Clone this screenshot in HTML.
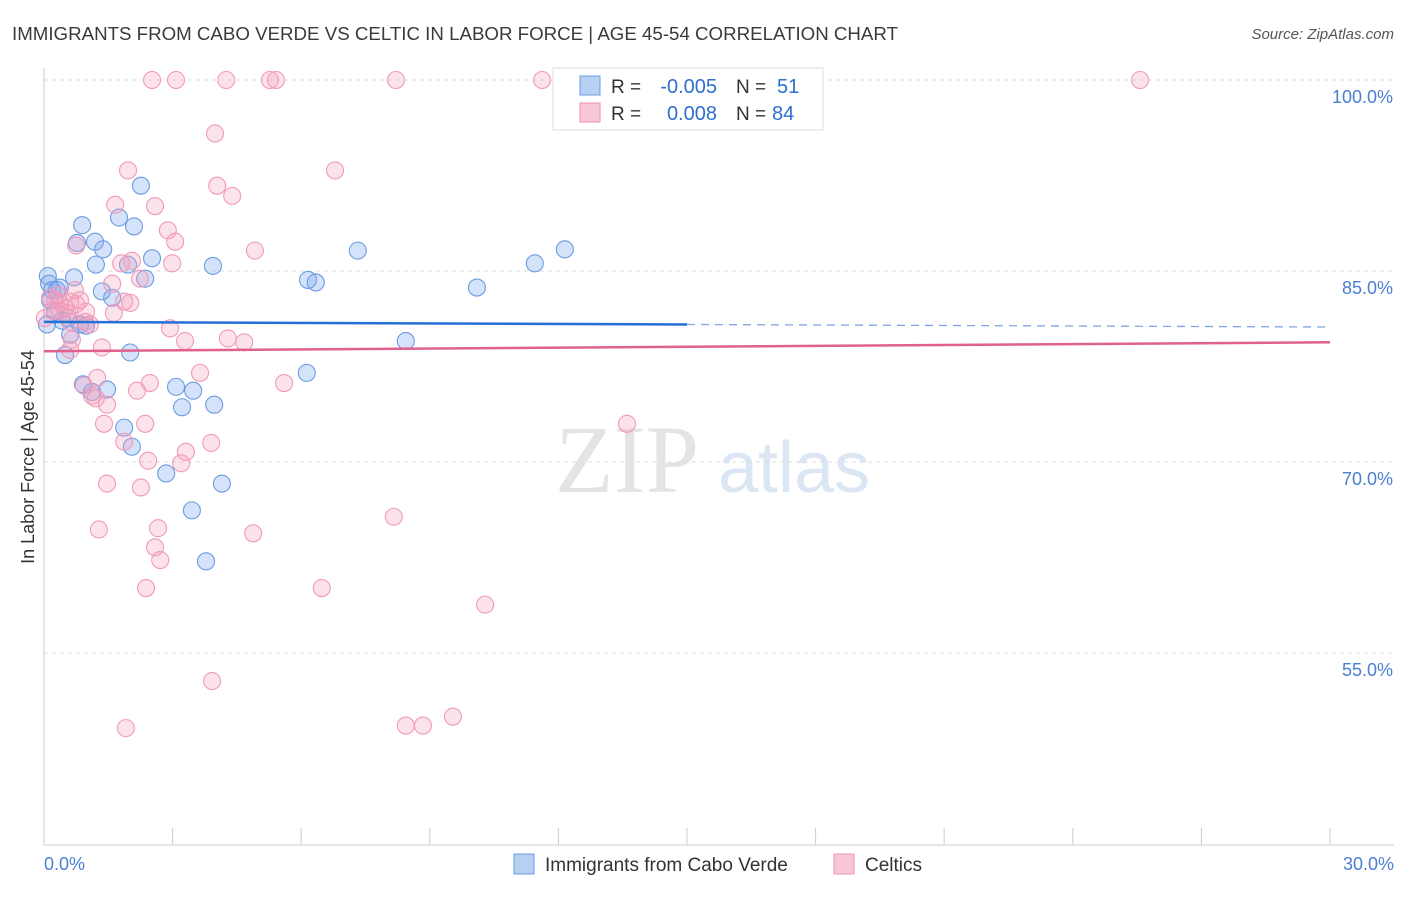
<!DOCTYPE html>
<html><head><meta charset="utf-8"><style>
body{margin:0;background:#fff;font-family:"Liberation Sans",sans-serif;}
</style></head><body>
<svg width="1406" height="892" viewBox="0 0 1406 892" xmlns="http://www.w3.org/2000/svg" id="chart">
<text x="12" y="40" font-size="18" fill="#3a3a3a" textLength="886" lengthAdjust="spacingAndGlyphs">IMMIGRANTS FROM CABO VERDE VS CELTIC IN LABOR FORCE | AGE 45-54 CORRELATION CHART</text>
<text x="1394" y="39" font-size="15" fill="#555" font-style="italic" text-anchor="end">Source: ZipAtlas.com</text>
<text x="555" y="492" font-size="96" fill="#e4e4e4" font-family="Liberation Serif">ZIP</text>
<text x="718" y="492" font-size="72" fill="#dbe6f5">atlas</text>
<g id="grid"></g><g id="pts"></g><g id="lines"></g>
<text transform="translate(34,457) rotate(-90)" font-size="18" fill="#333" text-anchor="middle">In Labor Force | Age 45-54</text>
<text x="44" y="870" font-size="18" fill="#4a7fd4">0.0%</text>
<text x="1394" y="870" font-size="18" fill="#4a7fd4" text-anchor="end">30.0%</text>
<g>
<rect x="553" y="68" width="270" height="62" fill="#fff" stroke="#ddd"/>
<rect x="580" y="76" width="20" height="19" fill="#b8d0f4" stroke="#6a9be0"/>
<rect x="580" y="103" width="20" height="19" fill="#f9c8d8" stroke="#ec8fb0"/>
<text x="611" y="93" font-size="19" fill="#333">R =</text>
<text x="717" y="93" font-size="20" fill="#2d6fd0" text-anchor="end">-0.005</text>
<text x="736" y="93" font-size="19" fill="#333">N =</text>
<text x="777" y="93" font-size="20" fill="#2d6fd0">51</text>
<text x="611" y="120" font-size="19" fill="#333">R =</text>
<text x="717" y="120" font-size="20" fill="#2d6fd0" text-anchor="end">0.008</text>
<text x="736" y="120" font-size="19" fill="#333">N =</text>
<text x="772" y="120" font-size="20" fill="#2d6fd0">84</text>
</g>
<g>
<rect x="514" y="854" width="20" height="20" fill="#b8d0f4" stroke="#6a9be0"/>
<text x="545" y="871" font-size="19" fill="#333">Immigrants from Cabo Verde</text>
<rect x="834" y="854" width="20" height="20" fill="#f9c8d8" stroke="#ec8fb0"/>
<text x="865" y="871" font-size="19" fill="#333">Celtics</text>
</g>
</svg>
<script>
const yTicks=[100,85,70,55];
const xTicks=[0,3,6,9,12,15,18,21,24,27,30];
const blueX=[0.09,0.12,0.07,0.19,0.30,0.37,0.70,0.89,0.77,1.19,1.38,1.21,2.26,1.75,2.10,2.52,2.36,1.96,1.59,1.35,0.56,0.49,0.61,0.84,0.98,0.91,1.47,1.12,2.01,1.87,2.05,2.85,3.08,3.22,3.48,3.97,3.45,4.15,3.78,3.94,6.16,6.34,6.13,7.32,8.44,10.10,11.45,12.15,0.14,0.26,0.42];
const blueY=[84.6,84.0,80.8,83.5,83.5,83.7,84.5,88.6,87.2,87.3,86.7,85.5,91.7,89.2,88.5,86.0,84.4,85.5,82.9,83.4,81.3,78.4,80.0,80.8,80.7,76.1,75.7,75.5,78.6,72.7,71.2,69.1,75.9,74.3,75.6,74.5,66.2,68.3,62.2,85.4,84.3,84.1,77.0,86.6,79.5,83.7,85.6,86.7,82.7,81.8,81.1];
const pinkX=[2.52,3.08,4.25,5.27,5.41,8.21,11.62,25.57,3.99,1.96,6.79,4.04,4.39,2.59,1.66,2.89,3.06,0.75,4.92,2.05,1.80,2.99,2.24,1.59,1.87,2.01,0.14,0.26,0.37,0.49,0.61,0.75,0.98,1.07,0.61,1.63,0.65,0.61,1.35,2.94,3.29,4.29,4.67,3.64,5.60,2.47,2.17,1.24,0.93,1.12,1.21,1.47,1.40,1.87,2.36,2.43,3.31,3.20,3.90,13.60,1.47,2.26,1.28,2.66,2.59,2.71,4.88,8.16,2.38,6.48,10.29,3.92,1.91,8.44,8.84,9.54,0.96,0.37,0.84,0.02,0.19,0.54,0.33,0.72];
const pinkY=[100,100,100,100,100,100,100,100,95.8,92.9,92.9,91.7,90.9,90.1,90.2,88.2,87.3,87.0,86.6,85.8,85.6,85.6,84.4,84.0,82.6,82.5,82.9,82.7,82.5,82.1,82.6,82.4,81.8,80.8,81.0,81.7,79.6,78.8,79.0,80.5,79.5,79.7,79.4,77.0,76.2,76.2,75.6,76.6,76.0,75.2,75.0,74.5,73.0,71.6,73.0,70.1,70.8,69.9,71.5,73.0,68.3,68.0,64.7,64.8,63.3,62.3,64.4,65.7,60.1,60.1,58.8,52.8,49.1,49.3,49.3,50.0,81.0,81.9,82.7,81.3,81.9,81.7,83.1,83.5];
const blueTrend=[81.0,80.6];const blueSolidEnd=15;
const pinkTrend=[78.7,79.4];
const NS="http://www.w3.org/2000/svg";
const X=v=>44+v/30*1286;
const Y=v=>80+(100-v)/15*191;
function mk(tag,attrs,parent){const e=document.createElementNS(NS,tag);for(const k in attrs)e.setAttribute(k,attrs[k]);parent.appendChild(e);return e;}
const grid=document.getElementById('grid'),pts=document.getElementById('pts'),lines=document.getElementById('lines'),svg=document.getElementById('chart');
yTicks.forEach(t=>{
 const l=mk('line',{x1:44,x2:1394,y1:Y(t),y2:Y(t),stroke:'#ddd','stroke-dasharray':'4,4'},grid);
 
 
 const tx=mk('text',{x:1393,y:Y(t)+23,'font-size':18,fill:'#4a7fd4','text-anchor':'end'},svg);
 tx.textContent=t.toFixed(1)+'%';
 
 
});
const ax=mk('line',{x1:44,x2:44,y1:68,y2:845,stroke:'#ccc'},grid);


const bx=mk('line',{x1:44,x2:1394,y1:845,y2:845,stroke:'#ccc'},grid);


xTicks.forEach(t=>{
 const l=mk('line',{x1:X(t),x2:X(t),y1:828,y2:845,stroke:'#ccc'},grid);
 
 
});
function dots(xs,ys,fill,stroke,name){xs.forEach((x,i)=>{
 const c=mk('circle',{cx:X(x),cy:Y(ys[i]),r:8.5,fill:fill,stroke:stroke,'stroke-width':1.1},pts);
 
 
});}
dots(blueX,blueY,'rgba(120,168,238,0.32)','#6b9be3','cabo-verde-point');
dots(pinkX,pinkY,'rgba(245,160,188,0.3)','#f09ab8','celtics-point');
const by=x=>blueTrend[0]+(blueTrend[1]-blueTrend[0])*x/30;
const l1=mk('line',{x1:X(0),y1:Y(by(0)),x2:X(blueSolidEnd),y2:Y(by(blueSolidEnd)),stroke:'#2470d6','stroke-width':2.5},lines);


const l2=mk('line',{x1:X(blueSolidEnd),y1:Y(by(blueSolidEnd)),x2:X(30),y2:Y(by(30)),stroke:'#7ea6e0','stroke-width':1.3,'stroke-dasharray':'8,6'},lines);


const l3=mk('line',{x1:X(0),y1:Y(pinkTrend[0]),x2:X(30),y2:Y(pinkTrend[1]),stroke:'#e0608f','stroke-width':2.5},lines);


</script>
</body></html>
